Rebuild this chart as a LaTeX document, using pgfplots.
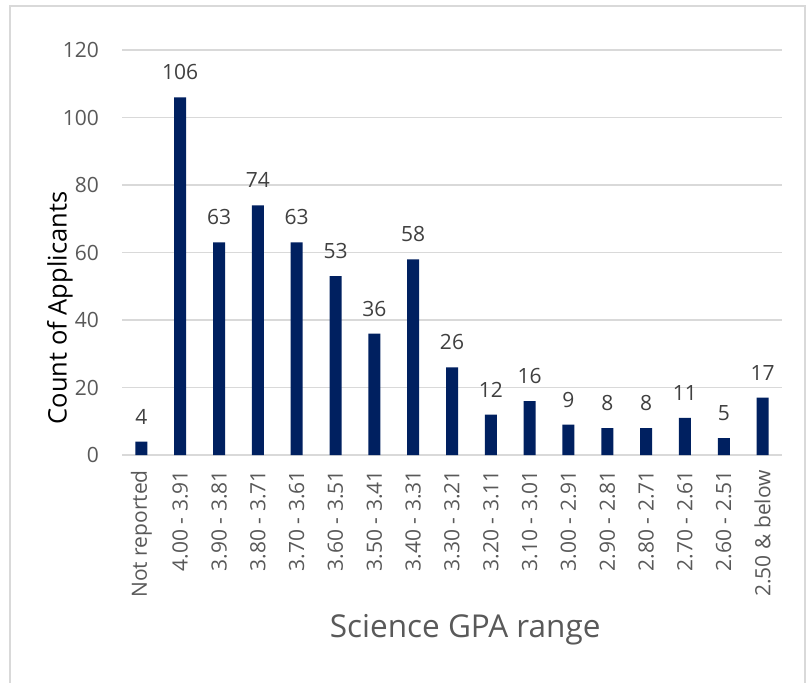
\documentclass[border=0pt]{standalone}
\usepackage{fontspec}
\setmainfont{Open Sans}
\usepackage{pgfplots}
\pgfplotsset{compat=1.18}
\definecolor{barblue}{HTML}{002060}
\definecolor{gridgray}{HTML}{D9D9D9}
\definecolor{txtgray}{HTML}{595959}
\definecolor{lblgray}{HTML}{404040}
\begin{document}
\begin{tikzpicture}
\useasboundingbox (0,0) rectangle (809bp,-683bp);
\fill[white] (0,0) rectangle (809bp,-683bp);
\draw[gridgray, line width=1.5bp] (10bp,-700bp) -- (10bp,-6bp) -- (805bp,-6bp) -- (805bp,-700bp);
\begin{axis}[
  at={(122bp,-455bp)}, anchor=south west,
  scale only axis, width=660bp, height=405bp,
  ybar, bar width=12bp,
  xmin=-0.5, xmax=16.5, ymin=0, ymax=120,
  ytick={0,20,...,120},
  xtick=data,
  xticklabels={Not reported,4.00 - 3.91,3.90 - 3.81,3.80 - 3.71,3.70 - 3.61,3.60 - 3.51,3.50 - 3.41,3.40 - 3.31,3.30 - 3.21,3.20 - 3.11,3.10 - 3.01,3.00 - 2.91,2.90 - 2.81,2.80 - 2.71,2.70 - 2.61,2.60 - 2.51,2.50 \& below},
  axis line style={draw=none},
  major tick length=0pt,
  ymajorgrids, grid style={gridgray, line width=1.5bp},
  /pgf/number format/assume math mode=true,
  yticklabel style={font=\fontsize{21bp}{25bp}\selectfont, text=txtgray, anchor=east, inner sep=0pt, xshift=-23bp},
  xticklabel style={font=\fontsize{21bp}{25bp}\selectfont, text=txtgray, yshift=-15bp, rotate=90, anchor=east, inner sep=0pt},
  ylabel={Count of Applicants},
  ylabel style={font=\fontsize{25.5bp}{30bp}\selectfont, text=black, at={(axis description cs:-0.094,0.363)}, anchor=center},
  xlabel={Science GPA range},
  xlabel style={font=\fontsize{31.5bp}{36bp}\selectfont, text=txtgray, at={(axis description cs:0.52,-0.432)}, anchor=center},
  nodes near coords,
  every node near coord/.append style={font=\fontsize{21bp}{25bp}\selectfont, text=lblgray, anchor=center, yshift=25bp, inner sep=0pt},
  clip=false,
]
\addplot[fill=barblue, draw=none] coordinates {
(0,4) (1,106) (2,63) (3,74) (4,63) (5,53) (6,36) (7,58) (8,26) (9,12) (10,16) (11,9) (12,8) (13,8) (14,11) (15,5) (16,17)
};
\end{axis}
\end{tikzpicture}
\end{document}
